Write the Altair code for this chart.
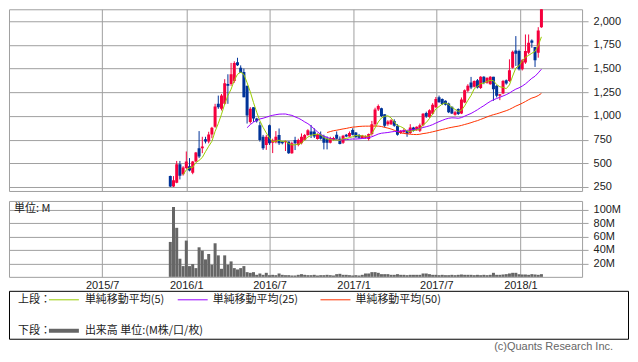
import altair as alt
import pandas as pd

# ---------------- data (weekly candles) ----------------
first_week = "2015-11-27"

opens = [365, 255, 295, 490, 385, 450, 470, 400, 520, 660, 660, 753,
         729, 805, 885, 1128, 1075, 1130, 1336, 1336, 1370, 1568, 1510, 1465, 1318, 937, 1093, 972,
         902, 780, 694, 902, 718, 722, 798, 729, 722, 729, 607, 746, 694, 711, 746, 798,
         836, 836, 757, 802, 784, 760, 716, 750, 802, 760, 716, 802, 784, 853,
         826, 800, 767, 770, 757, 809, 913, 1069, 1080, 1017, 913, 913, 948, 896, 819, 830, 844, 819, 879,
         850, 845, 902, 1030, 989, 1024, 1093, 1197, 1178, 1160, 1132, 1097, 1013, 1073, 1027, 1143,
         1265, 1353, 1307, 1378, 1294, 1413, 1350, 1335, 1413, 1318, 1213, 1237, 1378, 1370, 1510,
         1692, 1685, 1493, 1563, 1668, 1797, 1727, 1668, 1937]
highs = [370, 365, 525, 525, 470, 625, 555, 525, 620, 840, 780, 780,
         833, 885, 1128, 1215, 1232, 1388, 1440, 1560, 1577, 1614, 1534, 1500, 1318, 1093, 1093, 980,
         937, 800, 800, 909, 760, 840, 868, 735, 740, 729, 729, 780, 760, 815, 810, 860,
         905, 870, 815, 836, 802, 784, 780, 780, 836, 784, 800, 810, 836, 870,
         830, 810, 800, 795, 815, 948, 1087, 1121, 1087, 1017, 955, 965, 965, 913, 850, 870, 850, 913, 885,
         890, 920, 1030, 1045, 1070, 1135, 1200, 1215, 1185, 1165, 1140, 1100, 1055, 1080, 1195, 1280,
         1335, 1412, 1375, 1390, 1420, 1420, 1410, 1420, 1413, 1325, 1230, 1380, 1385, 1598, 1690,
         1843, 1700, 1600, 1860, 1860, 1808, 1727, 1937, 2147]
lows = [250, 250, 290, 330, 370, 440, 415, 385, 510, 555, 607, 710,
        711, 765, 875, 1075, 1058, 1118, 1128, 1318, 1350, 1527, 1457, 1197, 920, 920, 937, 930,
        729, 642, 642, 694, 608, 711, 694, 700, 630, 600, 600, 640, 680, 700, 740, 790,
        767, 767, 750, 750, 647, 647, 710, 740, 750, 700, 705, 775, 780, 795,
        770, 760, 760, 760, 740, 792, 896, 1052, 990, 879, 896, 905, 886, 792, 810, 820, 780, 810, 835,
        845, 830, 890, 980, 980, 1015, 1085, 1140, 1115, 1110, 1030, 1020, 1003, 1010, 1020, 1135,
        1250, 1283, 1300, 1290, 1285, 1335, 1340, 1330, 1160, 1195, 1167, 1230, 1330, 1360, 1500,
        1528, 1480, 1480, 1550, 1650, 1720, 1517, 1615, 1930]
closes = [255, 320, 490, 370, 455, 520, 425, 520, 615, 573, 677, 729,
          805, 875, 1100, 1093, 1215, 1346, 1318, 1440, 1560, 1534, 1457, 1197, 1006, 1076, 972, 944,
          746, 660, 780, 711, 740, 780, 711, 711, 735, 607, 711, 711, 746, 780, 798, 850,
          802, 784, 805, 760, 716, 716, 767, 767, 760, 705, 792, 784, 819, 802,
          774, 770, 792, 785, 809, 913, 1069, 1104, 1000, 896, 941, 955, 896, 802, 844, 850, 809, 879, 844,
          885, 902, 1024, 995, 1059, 1118, 1180, 1145, 1125, 1118, 1038, 1027, 1038, 1020, 1174, 1272,
          1318, 1300, 1370, 1300, 1413, 1350, 1400, 1413, 1283, 1213, 1230, 1370, 1343, 1482, 1678,
          1657, 1493, 1587, 1685, 1773, 1773, 1587, 1902, 2140]
# volume in millions
volumes = [52, 104, 73, 27, 16, 54, 16, 19, 13, 44, 39, 26,
           34, 18, 50, 32, 12, 32, 18, 23, 13, 11, 13, 16, 7, 6, 7, 3,
           5, 3, 6, 2.5, 3, 2.5, 5, 3, 2.5, 2.5, 2, 2, 3, 4, 3, 2.5,
           2.5, 3, 2, 2.5, 2.5, 3, 2.5, 2, 4, 4.5, 3, 3, 2.5, 2,
           2.5, 2, 3, 5, 5, 7, 7, 6, 4, 4, 4, 3, 3, 4, 3, 3, 2.5, 3, 3,
           3, 3, 5, 5, 4, 3, 3, 2.5, 3, 2.5, 2.5, 3, 2.5, 3, 3.5, 3,
           3, 3, 2.5, 3, 2.5, 3, 2.5, 3, 6, 3, 3, 3.5, 4, 5, 6,
           6, 4, 3.5, 3.5, 3, 4, 3.5, 3, 4]

price_ticks = [250, 500, 750, 1000, 1250, 1500, 1750, 2000]
volume_ticks = [20, 40, 60, 80, 100]
grid_months = [(2015, 7), (2016, 1), (2016, 7), (2017, 1), (2017, 7), (2018, 1)]

dates = pd.date_range(first_week, periods=len(closes), freq="7D").strftime("%Y-%m-%d").tolist()
df = pd.DataFrame({"date": dates, "open": opens, "high": highs, "low": lows,
                   "close": closes, "volume": volumes})

# ---------------- styles ----------------
FONT = "Noto Sans CJK JP"
AXFONT = "Liberation Sans"
GRID = "#a0a0a0"
UP = "#f5003d"
DOWN = "#003399"
TXT = "#222222"

x_domain = [alt.DateTime(year=2014, month=12, date=20, utc=True),
            alt.DateTime(year=2018, month=5, date=5, utc=True)]
grid_dates = [alt.DateTime(year=y, month=m, date=1, utc=True) for y, m in grid_months]
xscale = alt.Scale(type="utc", domain=x_domain)

candle_color = alt.condition("datum.close >= datum.open", alt.value(UP), alt.value(DOWN))

# ---------------- price panel ----------------
px = alt.X("date:T", scale=xscale,
           axis=alt.Axis(values=grid_dates, labels=False, ticks=False, domain=False,
                         grid=True, title=None))
pyscale = alt.Scale(domain=[208, 2126], nice=False, zero=False)
pyaxis = alt.Axis(orient="right", values=price_ticks, labelExpr="format(datum.value, ',d')",
                  grid=True, tickSize=6, domain=False, labelPadding=5, title=None)

base = alt.Chart(df)
wicks = base.mark_rule(strokeWidth=1, clip=True).encode(
    x=px, y=alt.Y("low:Q", scale=pyscale, axis=pyaxis), y2="high:Q", color=candle_color)
bodies = base.mark_bar(size=3, clip=True).encode(
    x=px, y=alt.Y("open:Q", scale=pyscale, axis=pyaxis), y2="close:Q", color=candle_color)


def ma_layer(n, color, name):
    return (base.transform_window(**{name: "mean(close)", "cnt_" + name: "count()"},
                                  frame=[-(n - 1), 0], sort=[alt.SortField("date")])
            .transform_filter(f"datum['cnt_{name}'] >= {n}")
            .mark_line(color=color, strokeWidth=1, clip=True)
            .encode(x=px, y=alt.Y(f"{name}:Q", scale=pyscale, axis=pyaxis)))


ma5 = ma_layer(5, "#99cc00", "ma5")
ma25 = ma_layer(25, "#9900ff", "ma25")
ma50 = ma_layer(50, "#ff3300", "ma50")

price = alt.layer(wicks, bodies, ma50, ma25, ma5).properties(width=574, height=182)

# ---------------- volume panel ----------------
one = pd.DataFrame({"k": [0]})
vx = alt.X("date:T", scale=xscale,
           axis=alt.Axis(values=grid_dates, labelExpr="utcFormat(datum.value, '%Y/%-m')",
                         ticks=False, domain=False, grid=True, labelPadding=3, title=None))
vbars = base.mark_bar(size=3, color="#666666").encode(
    x=vx,
    y=alt.Y("volume:Q", scale=alt.Scale(domain=[0, 113], nice=False),
            axis=alt.Axis(orient="right", values=volume_ticks, labelExpr="datum.value + 'M'",
                          grid=True, tickSize=6, domain=False, labelPadding=5, title=None)))
unit_txt = alt.Chart(one).mark_text(text="単位: M", align="left", baseline="middle",
                                    font=FONT, fontSize=11, color=TXT).encode(
    x=alt.value(5), y=alt.value(8))
volume = alt.layer(vbars, unit_txt).properties(width=574, height=76)


# ---------------- legend box ----------------
def txt(s, x, y, align="left", color=TXT, size=11, baseline="middle", font=FONT):
    return alt.Chart(one).mark_text(text=s, align=align, baseline=baseline, font=font,
                                    fontSize=size, color=color).encode(
        x=alt.value(x), y=alt.value(y))


def hline(x1, x2, y, color, w):
    return alt.Chart(one).mark_rule(color=color, strokeWidth=w).encode(
        x=alt.value(x1), x2=alt.value(x2), y=alt.value(y))


r1, r2 = 13, 44
box = alt.Chart(one).mark_rect(fill="white", stroke="black", strokeWidth=1).encode(
    x=alt.value(0.5), x2=alt.value(620.5), y=alt.value(4.5), y2=alt.value(52.5))
legend = alt.layer(
    box,
    txt("上段：", 9, r1),
    hline(40, 70, r1, "#99cc00", 1), txt("単純移動平均(5)", 76, r1),
    hline(169, 199, r1, "#9900ff", 1), txt("単純移動平均(25)", 204, r1),
    hline(312, 342, r1, "#ff3300", 1), txt("単純移動平均(50)", 347, r1),
    txt("下段：", 9, r2),
    hline(40, 70, r2, "#666666", 4), txt("出来高 単位:(M株/口/枚)", 76, r2),
    txt("(c)Quants Research Inc.", 605, 63, align="right", color="#666666",
        baseline="alphabetic", font=AXFONT),
).properties(width=621, height=64, view=alt.ViewBackground(stroke="transparent"))

chart = (alt.vconcat(price, volume, legend, spacing=10, bounds="flush")
         .resolve_scale(x="independent", y="independent")
         .properties(padding=0)
         .configure_view(stroke=GRID, strokeWidth=1)
         .configure_axis(labelFont=AXFONT, labelFontSize=11, labelColor=TXT,
                         gridColor=GRID, gridWidth=1, tickColor=GRID))

chart.save("out.html", embed_options={"renderer": "svg", "actions": False})
